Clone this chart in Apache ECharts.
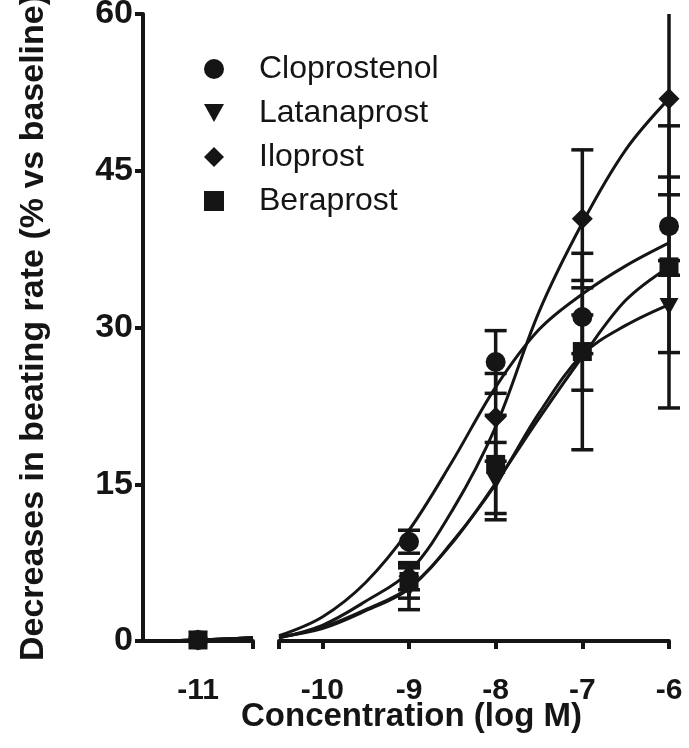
<!DOCTYPE html>
<html><head><meta charset="utf-8">
<script src="https://cdn.jsdelivr.net/npm/echarts@6/dist/echarts.min.js"></script>
<style>html,body{margin:0;padding:0;background:#fff}#c{width:689px;height:748px}</style>
</head><body><div id="c"></div>
<script>
// ---- data ----
const seriesNames = ['Cloprostenol', 'Latanaprost', 'Iloprost', 'Beraprost'];
const doses = [-11, -9, -8, -7, -6];
const clopMean = [0.1, 9.5, 26.7, 31.0, 39.7];
const clopSem  = [0.1, 1.1, 3.0, 3.5, 4.7];
const lataMean = [0.1, 5.0, 15.3, 27.6, 32.0];
const lataSem  = [0.1, 2.0, 3.7, 3.6, 4.4];
const iloMean  = [0.1, 6.2, 21.4, 40.4, 51.9];
const iloSem   = [0.1, 1.3, 4.2, 6.6, 9.2];
const beraMean = [0.1, 5.7, 16.9, 27.7, 35.8];
const beraSem  = [0.1, 1.6, 4.7, 9.4, 13.5];

const curveX    = [-10.5, -10, -9.5, -9, -8.5, -8, -7.5, -7, -6.5, -6];
const clopCurve = [0.5, 2.3, 5.6, 10.6, 17.2, 24.3, 29.8, 33.2, 35.9, 38.1];
const lataCurve = [0.4, 1.2, 2.9, 5.0, 9.5, 15.0, 21.8, 27.4, 30.2, 32.2];
const iloCurve  = [0.3, 1.5, 3.8, 6.6, 12.5, 20.5, 31.5, 40.0, 47.0, 51.9];
const beraCurve = [0.3, 1.3, 3.0, 5.1, 9.4, 15.1, 21.3, 27.2, 32.6, 35.8];
const lowCurveX = [-11.5, -11, -10.5];
const lowCurve  = [0.0, 0.1, 0.3];

const yTicks = [0, 15, 30, 45, 60];
const xTicksLeft = [-11];
const xTicksRight = [-10, -9, -8, -7, -6];
const xTitle = 'Concentration (log M)';
const yTitle = 'Decreases in beating rate (% vs baseline)';

// ---- styling ----
const INK = '#151515';
const SANS = "'Liberation Sans',Arial,sans-serif";
const symbols = ['circle', 'path://M0,0 L10,0 L5,9 Z', 'diamond', 'rect'];
const symSizes = [20, [19, 17], 21, 19];
const means = [clopMean, lataMean, iloMean, beraMean];
const sems = [clopSem, lataSem, iloSem, beraSem];
const curves = [clopCurve, lataCurve, iloCurve, beraCurve];

const chart = echarts.init(document.getElementById('c'), null, {renderer: 'canvas'});

function axisLineStyle() { return {show: true, lineStyle: {color: INK, width: 4}}; }

const series = [];
curves.forEach((c, k) => {
  series.push({
    type: 'line', name: seriesNames[k] + ' fit', xAxisIndex: 1, yAxisIndex: 1,
    data: curveX.map((x, i) => [x, c[i]]), smooth: 0.35, showSymbol: false, symbol: 'none',
    lineStyle: {color: INK, width: 3}, silent: true, z: 3
  });
  series.push({
    type: 'line', name: seriesNames[k] + ' fit0', xAxisIndex: 0, yAxisIndex: 0,
    data: lowCurveX.map((x, i) => [x, lowCurve[i]]), smooth: true, showSymbol: false, symbol: 'none',
    lineStyle: {color: INK, width: 3}, silent: true, z: 3
  });
});
function errRender(params, api) {
  const x = api.value(0);
  const lo = api.coord([x, api.value(1)]);
  const hi = api.coord([x, api.value(2)]);
  const top = params.coordSys.y;
  const hw = 11;
  const kids = [];
  const hy = Math.max(hi[1], top);
  kids.push({type: 'line', shape: {x1: lo[0], y1: lo[1], x2: hi[0], y2: hy}, style: {stroke: INK, lineWidth: 3.5}});
  kids.push({type: 'line', shape: {x1: lo[0] - hw, y1: lo[1], x2: lo[0] + hw, y2: lo[1]}, style: {stroke: INK, lineWidth: 3.5}});
  if (hi[1] >= top) kids.push({type: 'line', shape: {x1: hi[0] - hw, y1: hi[1], x2: hi[0] + hw, y2: hi[1]}, style: {stroke: INK, lineWidth: 3.5}});
  return {type: 'group', children: kids};
}
means.forEach((m, k) => {
  const all = doses.map((d, i) => [d, m[i] - sems[k][i], m[i] + sems[k][i]]);
  series.push({type: 'custom', name: seriesNames[k] + ' err', xAxisIndex: 1, yAxisIndex: 1,
    data: all.filter(p => p[0] > -10.5), renderItem: errRender, silent: true, z: 4});
});
means.forEach((m, k) => {
  const pts = doses.map((d, i) => [d, m[i]]);
  series.push({type: 'scatter', name: seriesNames[k], xAxisIndex: 1, yAxisIndex: 1,
    data: pts.filter(p => p[0] > -10.5), symbol: symbols[k], symbolSize: symSizes[k],
    itemStyle: {color: INK, opacity: 1}, z: 5});
  series.push({type: 'scatter', name: seriesNames[k], xAxisIndex: 0, yAxisIndex: 0,
    data: pts.filter(p => p[0] < -10.5), symbol: symbols[k], symbolSize: symSizes[k],
    itemStyle: {color: INK, opacity: 1}, z: 5});
});

const option = {
  backgroundColor: '#fff',
  animation: false,
  title: {
    text: xTitle, left: 236, top: 695,
    textStyle: {fontFamily: SANS, fontWeight: 'bold', fontSize: 33, color: INK}
  },
  legend: {
    orient: 'vertical', left: 199, top: 48, itemWidth: 20, itemHeight: 20, itemGap: 12,
    data: seriesNames.map((n, k) => ({name: n, icon: symbols[k]})),
    textStyle: {fontFamily: SANS, fontSize: 32, color: INK, padding: [0, 0, 0, 30]},
    itemStyle: {color: INK}, selectedMode: false
  },
  grid: [
    {left: 143, width: 110, top: 14, height: 627, outerBoundsMode: 'none', containLabel: false},
    {left: 279, width: 390, top: 14, height: 627, outerBoundsMode: 'none', containLabel: false}
  ],
  xAxis: [
    {type: 'value', gridIndex: 0, min: -11.5, max: -10.5,
      axisLine: axisLineStyle(),
      axisTick: {show: true, length: 8, lineStyle: {color: INK, width: 4}, customValues: [-11, -10.5]},
      axisLabel: {customValues: xTicksLeft, formatter: v => String(v), margin: 35,
        fontFamily: SANS, fontWeight: 'bold', fontSize: 30, color: INK},
      splitLine: {show: false}},
    {type: 'value', gridIndex: 1, min: -10.5, max: -6,
      axisLine: axisLineStyle(),
      axisTick: {show: true, length: 8, lineStyle: {color: INK, width: 4}, customValues: [-10.5].concat(xTicksRight)},
      axisLabel: {customValues: xTicksRight, formatter: v => String(v), margin: 35,
        fontFamily: SANS, fontWeight: 'bold', fontSize: 30, color: INK},
      splitLine: {show: false}}
  ],
  yAxis: [
    {type: 'value', gridIndex: 0, min: 0, max: 60, interval: 15,
      axisLine: axisLineStyle(),
      axisTick: {show: true, length: 8, lineStyle: {color: INK, width: 4}},
      axisLabel: {margin: 10, fontFamily: SANS, fontWeight: 'bold', fontSize: 34, color: INK,
        customValues: yTicks, formatter: v => String(v)},
      splitLine: {show: false},
      name: yTitle, nameLocation: 'middle', nameRotate: 90, nameGap: 92,
      nameTextStyle: {fontFamily: SANS, fontWeight: 'bold', fontSize: 34, color: INK}},
    {type: 'value', gridIndex: 1, min: 0, max: 60, interval: 15, show: false}
  ],
  series: series
};
chart.setOption(option);
</script>
</body></html>
